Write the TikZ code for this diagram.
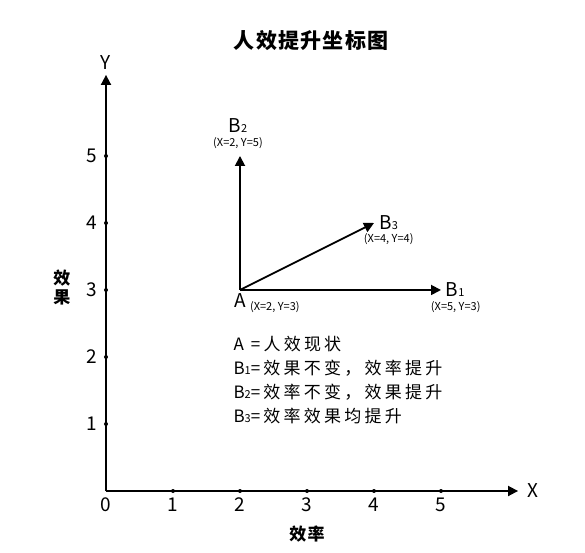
\documentclass[tikz,border=0pt]{standalone}
\usepackage{fontspec}
\setmainfont{Noto Sans CJK SC}
\usetikzlibrary{arrows.meta}

\newcommand{\lowidx}[1]{{\fontsize{11}{11}\selectfont #1}}

\begin{document}
\begin{tikzpicture}[x=67pt,y=67pt,
		axis/.style={line width=1.8pt,-{Triangle[length=10pt,width=10pt]}},
		tickdot/.style={circle,fill,inner sep=0pt,minimum size=4pt},
		ticklab/.style={font=\fontsize{19}{19}\selectfont,inner sep=0pt},
		ptlab/.style={font=\fontsize{19}{19}\selectfont,inner sep=0pt},
		coordlab/.style={font=\fontsize{11}{11}\selectfont,inner sep=0pt},
		legend/.style={font=\fontsize{17}{17}\selectfont\addfontfeatures{LetterSpace=19},inner sep=0pt,anchor=west},
		axname/.style={font=\bfseries\fontsize{17}{19}\selectfont\addfontfeatures{LetterSpace=8},inner sep=0pt,align=center}]
	
	\useasboundingbox (-1.582,-0.925) rectangle (7.149,7.328);
	
	\node[font=\bfseries\fontsize{21}{21}\selectfont\addfontfeatures{LetterSpace=6}] (title) at (3.06,6.73) {人效提升坐标图};
	
	\coordinate (o) at (0,0);
	\coordinate (xend) at (6.15,0);
	\coordinate (yend) at (0,6.21);
	\node[ticklab] (xlab) at (6.37,0) {X};
	\node[ticklab] (ylab) at (0,6.39) {Y};
	
	\node[axname] (xname) at (3,-0.64) {效率};
	\node[axname] (yname) at (-0.66,3.03) {效\\果};
	
	\draw[axis] (o) -- (xend);
	\draw[axis] (o) -- (yend);
	
	\node[ticklab] (t0) at (0,-0.2) {0};
	\foreach \i in {1,...,5} {
		\node[tickdot] (xt\i) at (\i,0) {};
		\node[tickdot] (yt\i) at (0,\i) {};
		\node[ticklab] (xl\i) at (\i,-0.2) {\i};
		\node[ticklab] (yl\i) at (-0.21,\i) {\i};
	}
	
	\coordinate (a) at (2,3);
	\coordinate (b1) at (5,3);
	\coordinate (b2) at (2,5);
	\coordinate (b3) at (4,4);
	
	\draw[axis] (a) -- (b1);
	\draw[axis] (a) -- (b2);
	\draw[axis] (a) -- (b3);
	
	\node[ptlab] (alab) at (2,2.85) {A};
	\node[coordlab] (acoord) at (2.52,2.75) {(X=2, Y=3)};
	\node[ptlab] (b1lab) at (5.21,3.0) {B\lowidx{1}};
	\node[coordlab] (b1coord) at (5.22,2.75) {(X=5, Y=3)};
	\node[ptlab] (b2lab) at (1.97,5.46) {B\lowidx{2}};
	\node[coordlab] (b2coord) at (1.97,5.19) {(X=2, Y=5)};
	\node[ptlab] (b3lab) at (4.22,4.0) {B\lowidx{3}};
	\node[coordlab] (b3coord) at (4.22,3.76) {(X=4, Y=4)};
	
	\node[legend] (l1) at (1.9,2.2) {A =人效现状};
	\node[legend] (l2) at (1.9,1.84) {B\lowidx{1}=效果不变，效率提升};
	\node[legend] (l3) at (1.9,1.48) {B\lowidx{2}=效率不变，效果提升};
	\node[legend] (l4) at (1.9,1.12) {B\lowidx{3}=效率效果均提升};
	
\end{tikzpicture}
\end{document}
